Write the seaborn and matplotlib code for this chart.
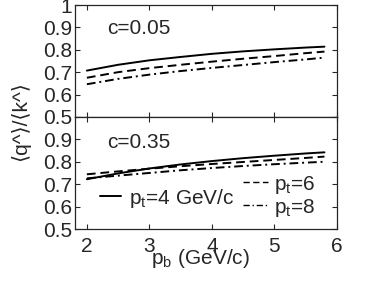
import matplotlib
matplotlib.use("Agg")
import matplotlib.pyplot as plt
import pandas as pd
import seaborn as sns
from matplotlib.lines import Line2D

pb = [2.0, 2.5, 3.0, 3.5, 4.0, 4.5, 5.0, 5.5, 5.8]

# c = 0.05
top_pt4 = [0.707, 0.733, 0.753, 0.768, 0.782, 0.793, 0.802, 0.810, 0.814]
top_pt6 = [0.675, 0.700, 0.718, 0.733, 0.747, 0.760, 0.772, 0.785, 0.792]
top_pt8 = [0.646, 0.670, 0.689, 0.705, 0.719, 0.732, 0.745, 0.757, 0.765]

# c = 0.35
bot_pt4 = [0.722, 0.748, 0.770, 0.788, 0.803, 0.816, 0.827, 0.837, 0.842]
bot_pt6 = [0.744, 0.757, 0.769, 0.780, 0.790, 0.799, 0.808, 0.817, 0.823]
bot_pt8 = [0.726, 0.738, 0.750, 0.762, 0.772, 0.781, 0.789, 0.796, 0.800]

pt_labels = ["4", "6", "8"]
y_ticks = [0.5, 0.6, 0.7, 0.8, 0.9, 1.0]
x_ticks = [2, 3, 4, 5, 6]


def make_frame(series):
    rows = []
    for pt, vals in zip(pt_labels, series):
        for x, y in zip(pb, vals):
            rows.append({"pb": x, "ratio": y, "pt": pt})
    return pd.DataFrame(rows)


df_top = make_frame([top_pt4, top_pt6, top_pt8])
df_bot = make_frame([bot_pt4, bot_pt6, bot_pt8])

sns.set_style("ticks")
plt.rcParams["font.family"] = ["Liberation Sans", "DejaVu Sans"]
plt.rcParams["mathtext.fontset"] = "custom"
plt.rcParams["mathtext.rm"] = "Liberation Sans"
plt.rcParams["mathtext.it"] = "Liberation Sans"
plt.rcParams["mathtext.default"] = "rm"

fs = 15
dashes = {"4": "", "6": (4.5, 2.5), "8": (4.5, 2, 1, 2)}

fig = plt.figure(figsize=(3.74, 2.81), dpi=100)
ax_top = fig.add_axes([0.2005, 0.584, 0.7005, 0.398])
ax_bot = fig.add_axes([0.2005, 0.185, 0.7005, 0.399])

for ax, df, label, ly in [(ax_top, df_top, "c=0.05", 0.893), (ax_bot, df_bot, "c=0.35", 0.888)]:
    sns.lineplot(data=df, x="pb", y="ratio", style="pt", dashes=dashes,
                 color="black", linewidth=1.4, ax=ax, legend=False)
    ax.set_xlim(1.81, 6)
    ax.set_ylim(0.5, 1.0)
    ax.set_xticks(x_ticks)
    ax.set_yticks(y_ticks)
    ax.tick_params(direction="in", top=True, right=True, length=3.5, width=0.8,
                   labelsize=fs, pad=2)
    ax.set_xlabel("")
    ax.set_ylabel("")
    for s in ax.spines.values():
        s.set_linewidth(0.9)
    ax.text(2.33, ly, label, fontsize=fs, va="center", ha="left")

ax_top.tick_params(labelbottom=False)
ax_bot.set_yticklabels(["0.5", "0.6", "0.7", "0.8", "0.9", ""])
ax_top.set_yticklabels(["0.5", "0.6", "0.7", "0.8", "0.9", "1"])
ax_bot.tick_params(axis="x", pad=6)

ax_bot.set_xlabel(r"p$_b$ (GeV/c)", fontsize=fs)
ax_bot.xaxis.set_label_coords(0.48, -0.16)
fig.text(0.055, 0.57, "⟨q^⟩/⟨k^⟩", rotation=90, fontsize=fs, ha="center", va="center")

h1 = [Line2D([], [], color="black", linewidth=1.4)]
leg1 = ax_bot.legend(h1, [r"p$_t$=4 GeV/c"], loc="center left", frameon=False,
                     bbox_to_anchor=(0.267, 0.295), bbox_transform=fig.transFigure,
                     fontsize=fs, handlelength=1.0, handletextpad=0.4,
                     borderpad=0, borderaxespad=0)
ax_bot.add_artist(leg1)
h2 = [Line2D([], [], color="black", linewidth=1.0, dashes=(4.5, 2.5)),
      Line2D([], [], color="black", linewidth=1.0, dashes=(4.5, 2, 1, 2))]
ax_bot.legend(h2, [r"p$_t$=6", r"p$_t$=8"], loc="center left", frameon=False,
              bbox_to_anchor=(0.650, 0.302), bbox_transform=fig.transFigure,
              fontsize=fs, handlelength=1.2, handletextpad=0.3,
              borderpad=0, borderaxespad=0, labelspacing=0.05)

fig.savefig("out.png", dpi=100)
plt.close(fig)
